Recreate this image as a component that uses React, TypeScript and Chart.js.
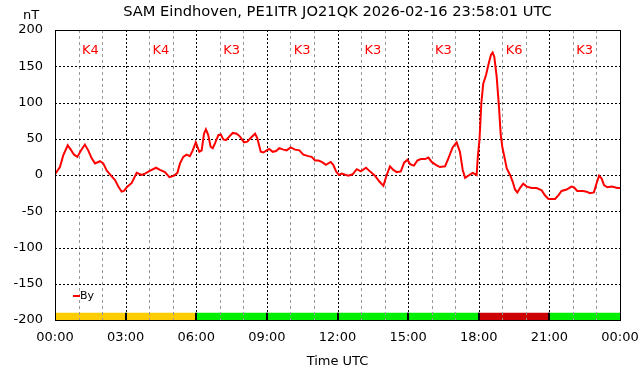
import React, { useEffect, useRef } from 'react';
import { Chart, registerables } from 'chart.js';
Chart.register(...registerables);

const TITLE = 'SAM Eindhoven, PE1ITR JO21QK 2026-02-16 23:58:01 UTC';
const Y_UNIT = 'nT';
const X_TITLE = 'Time UTC';
const SERIES_NAME = 'By';

const hours = [
  0.0, 0.21, 0.35, 0.54, 0.67, 0.81, 0.95, 1.09, 1.27, 1.41, 1.56, 1.7, 1.91, 2.05, 2.2, 2.41, 2.55, 2.69, 2.83, 2.93,
  3.07, 3.26, 3.47, 3.68, 3.82, 4.04, 4.29, 4.46, 4.67, 4.86, 5.06, 5.2, 5.31, 5.45, 5.59, 5.73, 5.85, 5.98, 6.13,
  6.23, 6.33, 6.41, 6.51, 6.61, 6.7, 6.8, 6.94, 7.04, 7.15, 7.26, 7.4, 7.55, 7.72, 7.86, 8.03, 8.17, 8.31, 8.5, 8.59,
  8.74, 8.85, 8.99, 9.1, 9.25, 9.39, 9.53, 9.7, 9.84, 10.01, 10.2, 10.38, 10.55, 10.76, 10.9, 11.05, 11.19, 11.33,
  11.51, 11.71, 11.82, 11.94, 12.06,
  12.18, 12.46, 12.64, 12.82, 12.99, 13.21, 13.38, 13.59, 13.78, 13.95, 14.09, 14.23, 14.37, 14.52, 14.69, 14.83,
  14.97, 15.08, 15.25, 15.39, 15.54, 15.72, 15.86, 16.0, 16.18, 16.35, 16.57, 16.71, 16.89, 17.06, 17.2, 17.32,
  17.42, 17.6, 17.74, 17.91, 17.96, 18.03, 18.11, 18.19, 18.31, 18.41, 18.52, 18.59, 18.66, 18.76, 18.86, 18.93,
  19.0, 19.07, 19.19, 19.33, 19.44, 19.54, 19.64, 19.75, 19.89, 20.04, 20.25, 20.46, 20.67, 20.81, 20.96, 21.24,
  21.38, 21.52, 21.73, 21.94, 22.05, 22.18, 22.43, 22.58, 22.72, 22.89, 23.0, 23.11, 23.22, 23.32, 23.46, 23.66,
  23.89, 24.0,
];

const byValues = [
  1, 11, 27, 41, 35, 28, 25, 33, 42, 34, 23, 16, 19, 16, 6, -2, -7, -16, -23, -22,
  -16, -11, 3, 0, 2, 6, 10, 7, 4, -3, -1, 3, 16, 25, 28, 26, 34, 45, 32,
  34, 57, 63, 55, 39, 37, 44, 55, 56, 49, 48, 53, 58, 57, 53, 45, 46, 51, 57, 51,
  32, 31, 34, 36, 32, 33, 37, 35, 34, 38, 35, 34, 28, 26, 25, 20, 20, 18,
  14, 18, 14, 5, 0,
  2, -1, 1, 8, 5, 10, 5, -1, -9, -15, 0, 12, 7, 4, 5, 17,
  21, 15, 13, 20, 22, 22, 24, 18, 14, 11, 12, 23, 38, 45, 32, 7,
  -4, 0, 3, 0, 25, 48, 99, 126, 138, 152, 166, 169, 163, 136, 94, 57,
  39, 28, 9, 0, -9, -20, -24, -18, -12, -16, -18, -18, -21, -28, -33, -33,
  -28, -22, -20, -16, -17, -22, -22, -23, -25, -24, -12, -1, -5, -14, -17, -16,
  -18, -18,
];

const kBlockStarts = [0, 3, 6, 9, 12, 15, 18, 21];
const kIndex = [4, 4, 3, 3, 3, 3, 6, 3];

const xTickValues = [0, 3, 6, 9, 12, 15, 18, 21, 24];
const yTickValues = [-200, -150, -100, -50, 0, 50, 100, 150, 200];

const FONT = '"DejaVu Sans", sans-serif';

function kColor(k: number): string {
  if (k >= 5) return '#cc0000';
  if (k === 4) return '#ffcc00';
  return '#00ee00';
}

const decorPlugin = {
  id: 'decor',
  beforeDatasetsDraw(chart: any) {
    const { ctx, chartArea } = chart;
    const xs = chart.scales.x;
    const ys = chart.scales.y;
    const { left, right, top, bottom } = chartArea;
    ctx.save();
    const yb0 = ys.getPixelForValue(-190);
    const yb1 = ys.getPixelForValue(-200);
    kBlockStarts.forEach((h, i) => {
      const x0 = xs.getPixelForValue(h);
      const x1 = xs.getPixelForValue(h + 3);
      ctx.fillStyle = kColor(kIndex[i]);
      ctx.fillRect(x0, yb0, x1 - x0, yb1 - yb0);
    });
    ctx.lineWidth = 1;
    ctx.strokeStyle = '#999999';
    ctx.setLineDash([3, 3]);
    for (let h = 1; h < 24; h++) {
      if (h % 3 === 0) continue;
      const x = Math.round(xs.getPixelForValue(h)) + 0.5;
      ctx.beginPath();
      ctx.moveTo(x, top);
      ctx.lineTo(x, bottom);
      ctx.stroke();
    }
    ctx.strokeStyle = '#000000';
    ctx.setLineDash([2, 2]);
    xTickValues.forEach((h) => {
      if (h === 0 || h === 24) return;
      const x = Math.round(xs.getPixelForValue(h)) + 0.5;
      ctx.beginPath();
      ctx.moveTo(x, top);
      ctx.lineTo(x, bottom);
      ctx.stroke();
    });
    yTickValues.forEach((v) => {
      const y = Math.round(ys.getPixelForValue(v)) + 0.5;
      ctx.beginPath();
      ctx.moveTo(left, y);
      ctx.lineTo(right, y);
      ctx.stroke();
    });
    ctx.setLineDash([]);
    ctx.lineWidth = 2;
    kBlockStarts.forEach((h) => {
      if (h === 0) return;
      const x = Math.round(xs.getPixelForValue(h));
      ctx.beginPath();
      ctx.moveTo(x, yb0);
      ctx.lineTo(x, yb1);
      ctx.stroke();
    });
    ctx.fillStyle = '#ff0000';
    ctx.font = '13px ' + FONT;
    ctx.textAlign = 'center';
    ctx.textBaseline = 'middle';
    const yk = ys.getPixelForValue(172);
    kBlockStarts.forEach((h, i) => {
      ctx.fillText('K' + kIndex[i], xs.getPixelForValue(h + 1.5), yk);
    });
    ctx.restore();
  },
  afterDatasetsDraw(chart: any) {
    const { ctx, chartArea } = chart;
    const { left, right, top, bottom } = chartArea;
    ctx.save();
    ctx.strokeStyle = '#000';
    ctx.lineWidth = 1;
    ctx.setLineDash([]);
    ctx.strokeRect(Math.round(left) + 0.5, Math.round(top) + 0.5, Math.round(right - left), Math.round(bottom - top));
    ctx.strokeStyle = '#ff0000';
    ctx.lineWidth = 2;
    ctx.beginPath();
    ctx.moveTo(73, 296);
    ctx.lineTo(80, 296);
    ctx.stroke();
    ctx.fillStyle = '#000';
    ctx.font = '11px ' + FONT;
    ctx.textAlign = 'left';
    ctx.textBaseline = 'middle';
    ctx.fillText(SERIES_NAME, 80, 296);
    ctx.font = '14.67px ' + FONT;
    ctx.textAlign = 'center';
    ctx.fillText(TITLE, (left + right) / 2, 12);
    ctx.font = '13px ' + FONT;
    ctx.fillText(Y_UNIT, 31, 16);
    ctx.fillText(X_TITLE, (left + right) / 2, 362);
    ctx.restore();
  },
};

export default function App() {
  const ref = useRef<HTMLCanvasElement>(null);
  useEffect(() => {
    document.body.style.margin = '0';
    const canvas = ref.current!;
    const chart = new Chart(canvas, {
      type: 'line',
      data: {
        datasets: [
          {
            label: SERIES_NAME,
            data: hours.map((h, i) => ({ x: h, y: byValues[i] })),
            borderColor: '#ff0000',
            borderWidth: 2,
            pointRadius: 0,
            tension: 0,
            fill: false,
          },
        ],
      },
      options: {
        responsive: false,
        animation: false,
        events: [],
        layout: { padding: { top: 30, right: 22, left: 0, bottom: 0 } },
        plugins: { legend: { display: false }, title: { display: false }, tooltip: { enabled: false } },
        scales: {
          x: {
            type: 'linear',
            min: 0,
            max: 24,
            grid: { display: false, drawTicks: false },
            border: { display: false },
            afterBuildTicks: (scale: any) => {
              scale.ticks = xTickValues.map((v) => ({ value: v }));
            },
            afterFit: (scale: any) => {
              scale.height = 56;
              scale.paddingLeft = 0;
              scale.paddingRight = 0;
            },
            ticks: {
              autoSkip: false,
              maxRotation: 0,
              padding: 10,
              color: '#000',
              font: { family: FONT, size: 13 },
              callback: (v: any) => String(Number(v) % 24).padStart(2, '0') + ':00',
            },
          },
          y: {
            type: 'linear',
            min: -200,
            max: 200,
            grid: { display: false, drawTicks: false },
            border: { display: false },
            afterBuildTicks: (scale: any) => {
              scale.ticks = yTickValues.map((v) => ({ value: v }));
            },
            afterFit: (scale: any) => {
              scale.width = 55;
              scale.paddingTop = 0;
              scale.paddingBottom = 0;
            },
            ticks: {
              padding: 12,
              color: '#000',
              font: { family: FONT, size: 13 },
            },
          },
        },
      },
      plugins: [decorPlugin],
    });
    return () => chart.destroy();
  }, []);
  return (
    <div style={{ width: 642, height: 376 }}>
      <canvas ref={ref} width={642} height={376} />
    </div>
  );
}
